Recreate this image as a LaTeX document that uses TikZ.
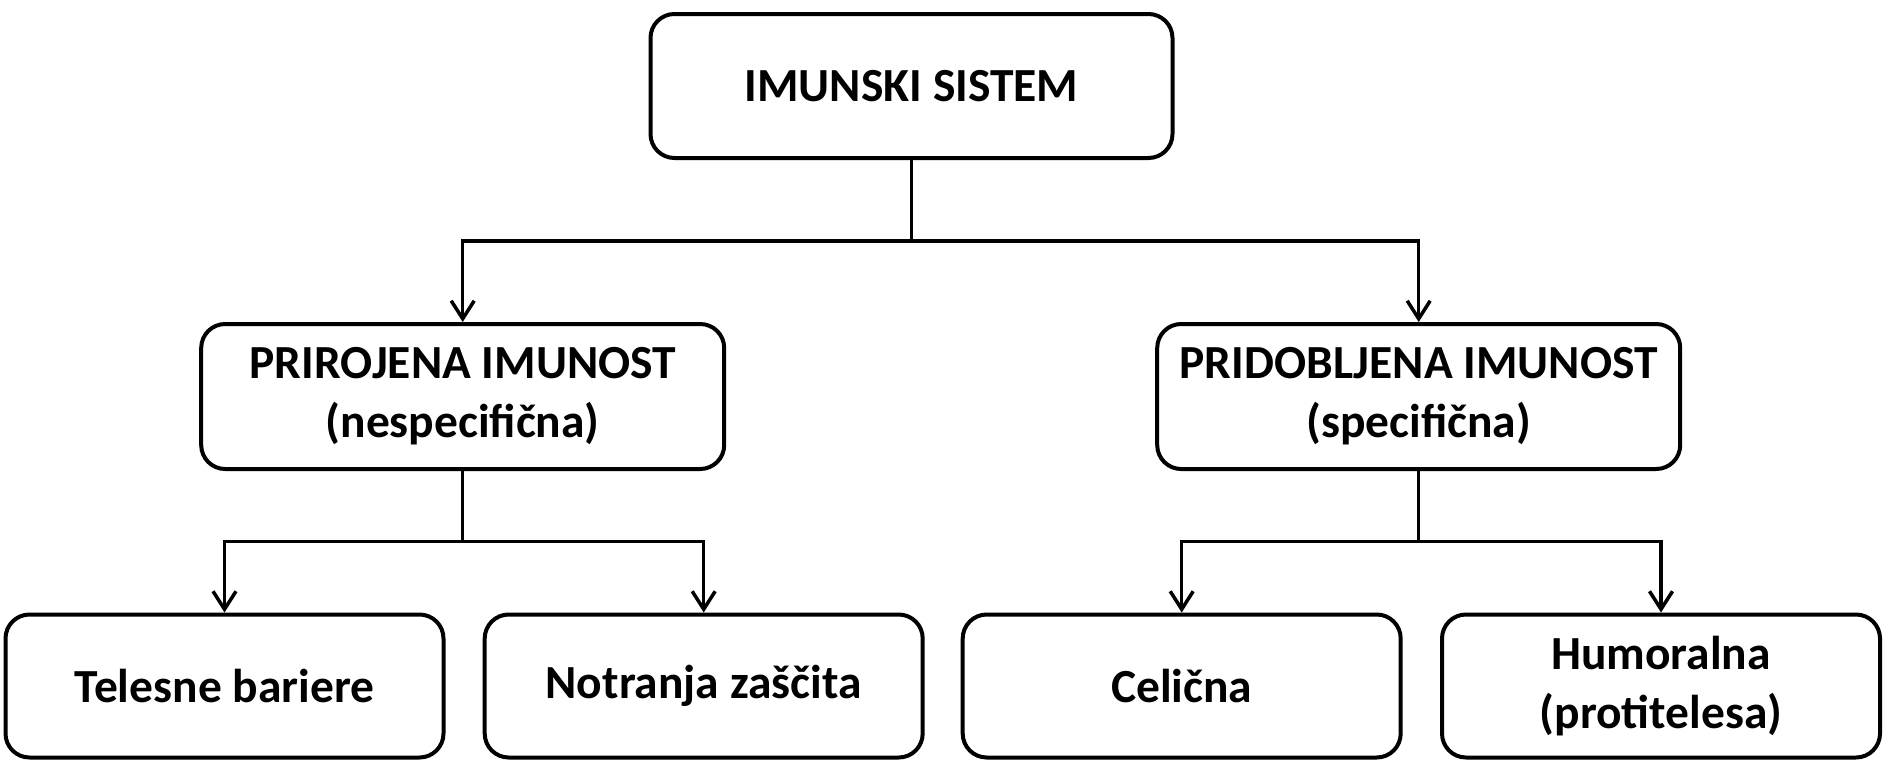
\documentclass[tikz,border=0pt]{standalone}
\usepackage{fontspec}
\setmainfont{Carlito}
\usetikzlibrary{arrows.meta}
\begin{document}
\begin{tikzpicture}[x=1pt,y=-1pt,
  box/.style={draw=black, line width=4pt, rounded corners=24pt, fill=white,
    align=center, inner sep=0pt, font=\fontsize{47.5}{59}\selectfont\bfseries},
  topbox/.style={box, minimum width=522pt, minimum height=144pt},
  midbox/.style={box, minimum width=523pt, minimum height=145pt},
  botbox/.style={box, minimum width=438pt, minimum height=143pt},
  conn/.style={line width=3.5pt},
  arr/.style={conn, -{Straight Barb[length=18pt,width=23pt,line width=3.5pt]}}]
\useasboundingbox (0,0) rectangle (1883,764);
\node[topbox] (top) at (911.5,86) {IMUNSKI SISTEM};
\node[midbox] (ml) at (462.7,396.5) {PRIROJENA IMUNOST\\(nespecifična)};
\node[midbox] (mr) at (1418.7,396.5) {PRIDOBLJENA IMUNOST\\(specifična)};
\node[botbox] (b1) at (224.5,686) {Telesne bariere};
\node[botbox] (b2) at (703.7,686) {Notranja zaščita};
\node[botbox] (b3) at (1181.7,686) {Celična};
\node[botbox] (b4) at (1661,686) {Humoralna\\(protitelesa)};
\coordinate (j1) at (911.5,241);
\coordinate (j2) at (462.7,541.6);
\coordinate (j3) at (1418.7,541.6);
\draw[conn] (top.south) -- (j1);
\draw[arr] (j1) -| (ml.north);
\draw[arr] (j1) -| (mr.north);
\draw[conn] (ml.south) -- (j2);
\draw[arr] (j2) -| (b1.north);
\draw[arr] (j2) -| (b2.north);
\draw[conn] (mr.south) -- (j3);
\draw[arr] (j3) -| (b3.north);
\draw[arr] (j3) -| (b4.north);
\end{tikzpicture}
\end{document}
